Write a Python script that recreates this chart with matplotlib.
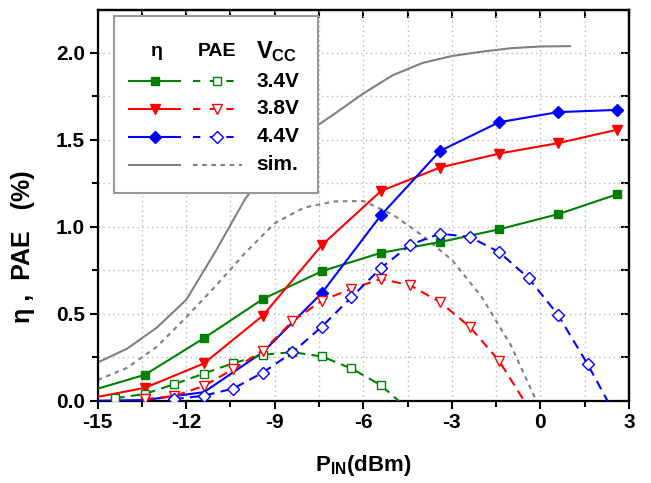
import numpy as np
import matplotlib
matplotlib.use('Agg')
import matplotlib.pyplot as plt
from matplotlib.patches import Rectangle
from matplotlib.ticker import MultipleLocator, FormatStrFormatter

plt.rcParams['font.family'] = ['Liberation Sans', 'DejaVu Sans']
plt.rcParams['font.weight'] = 'bold'
plt.rcParams['axes.unicode_minus'] = False
plt.rcParams['mathtext.fontset'] = 'custom'
plt.rcParams['mathtext.rm'] = 'Liberation Sans:bold'
plt.rcParams['mathtext.bf'] = 'Liberation Sans:bold'
plt.rcParams['mathtext.it'] = 'Liberation Sans:bold'

nan = np.nan

# measured efficiency, every 2 dB of input power
pin_eff = [-15.4, -13.4, -11.4, -9.4, -7.4, -5.4, -3.4, -1.4, 0.6, 2.6]
eff_34 = [0.05, 0.15, 0.36, 0.585, 0.745, 0.85, 0.912, 0.985, 1.072, 1.186]
eff_38 = [0.01, 0.075, 0.215, 0.49, 0.895, 1.205, 1.34, 1.42, 1.48, 1.557]
eff_44 = [0.0, 0.005, 0.05, 0.28, 0.62, 1.066, 1.435, 1.60, 1.658, 1.671]

# measured PAE, every 1 dB of input power
pin_pae = [-15.4, -14.4, -13.4, -12.4, -11.4, -10.4, -9.4, -8.4, -7.4, -6.4,
           -5.4, -4.4, -3.4, -2.4, -1.4, -0.4, 0.6, 1.6, 2.6]
pae_34 = [nan, 0.015, 0.04, 0.096, 0.157, 0.217, 0.265, 0.28, 0.255, 0.186,
          0.09, -0.06, nan, nan, nan, nan, nan, nan, nan]
pae_38 = [nan, nan, 0.01, 0.028, 0.086, 0.183, 0.288, 0.457, 0.576, 0.644,
          0.70, 0.663, 0.567, 0.427, 0.231, -0.04, nan, nan, nan]
pae_44 = [nan, nan, nan, 0.01, 0.03, 0.071, 0.163, 0.278, 0.427, 0.595,
          0.763, 0.897, 0.96, 0.942, 0.855, 0.705, 0.494, 0.211, -0.10]

# simulation
pin_sim = [-15, -14, -13, -12, -11, -10, -9, -8, -7, -6, -5, -4, -3, -2, -1, 0, 1]
eff_sim = [0.22, 0.30, 0.42, 0.58, 0.86, 1.16, 1.38, 1.53, 1.645, 1.765, 1.87,
           1.94, 1.98, 2.005, 2.025, 2.035, 2.037]
pae_sim = [0.12, 0.19, 0.31, 0.48, 0.66, 0.85, 1.02, 1.11, 1.145, 1.148, 1.07,
           0.95, 0.81, 0.60, 0.32, -0.05, nan]

vcc_labels = ['3.4V', '3.8V', '4.4V']
colors = ['#008000', '#ff0000', '#0000ff']
markers = ['s', 'v', 'D']
msizes = [6, 7.5, 6.5]

fig = plt.figure(figsize=(6.51, 4.83), dpi=100)
ax = fig.add_axes([0.150, 0.170, 0.816, 0.8095])

pae_dash = (4.5, 3)
sim_dash = (2.2, 2.2)

ax.plot(pin_sim, eff_sim, color='#808080', lw=1.5, zorder=2)
ax.plot(pin_sim, pae_sim, color='#808080', lw=1.5, dashes=sim_dash, zorder=2)

effs = [eff_34, eff_38, eff_44]
paes = [pae_34, pae_38, pae_44]
first_mark = [0, 0, 4]
for eff, pae, c, m, ms, k in zip(effs, paes, colors, markers, msizes, first_mark):
    ax.plot(pin_eff, eff, color=c, lw=1.5, marker=m, ms=ms, mfc=c, mec=c,
            markevery=slice(k, None), zorder=3)
    ax.plot(pin_pae, pae, color=c, lw=1.5, dashes=pae_dash, marker=m, ms=ms,
            mfc='white', mec=c, mew=1.0, zorder=4)

ax.set_xlim(-15, 3)
ax.set_ylim(0, 2.245)
ax.xaxis.set_major_locator(MultipleLocator(3))
ax.xaxis.set_minor_locator(MultipleLocator(1.5))
ax.yaxis.set_major_locator(MultipleLocator(0.5))
ax.yaxis.set_minor_locator(MultipleLocator(0.25))
ax.yaxis.set_major_formatter(FormatStrFormatter('%.1f'))
ax.grid(True, which='both', ls=(0, (1, 2.5)), color='#b8b8b8', lw=1.0, zorder=0)
ax.set_axisbelow(True)

ax.tick_params(which='major', direction='out', length=6, width=1.5,
               labelsize=15, pad=3, top=False, right=False)
ax.tick_params(which='minor', direction='out', length=4, width=1.5,
               top=False, right=False)
for s in ax.spines.values():
    s.set_linewidth(1.6)

top = ax.secondary_xaxis('top')
top.xaxis.set_major_locator(MultipleLocator(1.5))
top.tick_params(direction='in', length=6, width=1.5, labeltop=False)
top.spines['top'].set_linewidth(1.6)
right = ax.secondary_yaxis('right')
right.yaxis.set_major_locator(MultipleLocator(0.25))
right.tick_params(direction='in', length=6, width=1.5, labelright=False)
right.spines['right'].set_linewidth(1.6)

ax.set_ylabel('\u03b7 ,  PAE   (%)', fontsize=18, fontweight='bold')
ax.yaxis.set_label_coords(-0.118, 0.394)
fig.text(363 / 651, 1 - 466 / 483, r'$\mathbf{P_{IN}}$(dBm)', fontsize=16,
         fontweight='bold', ha='center', va='center')

# legend box
ax.add_patch(Rectangle((0.03, 0.532), 0.385, 0.453, transform=ax.transAxes,
                       fc='white', ec='#999999', lw=1.5, zorder=6))
ax.text(0.111, 0.893, '\u03b7', transform=ax.transAxes, fontsize=14,
        ha='center', va='center', zorder=7)
ax.text(0.224, 0.893, 'PAE', transform=ax.transAxes, fontsize=14,
        ha='center', va='center', zorder=7)
ax.text(0.299, 0.893, r'$\mathbf{V_{CC}}$', transform=ax.transAxes,
        fontsize=17, ha='left', va='center', zorder=7)

rows_y = [0.818, 0.747, 0.676]
for y, c, m, ms, lab in zip(rows_y, colors, markers, msizes, vcc_labels):
    ax.plot([0.0595, 0.155], [y, y], transform=ax.transAxes, color=c, lw=1.5,
            zorder=7)
    ax.plot([0.108], [y], transform=ax.transAxes, ls='none', marker=m, ms=ms,
            mfc=c, mec=c, zorder=8)
    ax.plot([0.179, 0.271], [y, y], transform=ax.transAxes, color=c, lw=1.5,
            dashes=(3.5, 4.5), zorder=7)
    ax.plot([0.225], [y], transform=ax.transAxes, ls='none', marker=m, ms=ms,
            mfc='white', mec=c, mew=1.0, zorder=8)
    ax.text(0.299, y, lab, transform=ax.transAxes, fontsize=15, ha='left',
            va='center', zorder=7)

y = 0.604
ax.plot([0.0595, 0.155], [y, y], transform=ax.transAxes, color='#808080',
        lw=1.5, zorder=7)
ax.plot([0.179, 0.271], [y, y], transform=ax.transAxes, color='#808080',
        lw=1.5, dashes=sim_dash, zorder=7)
ax.text(0.299, y, 'sim.', transform=ax.transAxes, fontsize=15, ha='left',
        va='center', zorder=7)

fig.savefig('out.png', dpi=100)
